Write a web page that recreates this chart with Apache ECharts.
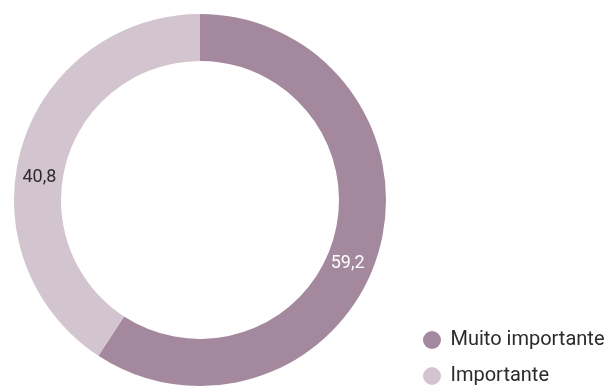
<!DOCTYPE html>
<html>
<head>
<meta charset="utf-8">
<style>
  html, body { margin: 0; padding: 0; background: #ffffff; }
  #chart { width: 611px; height: 387px; }
</style>
<script src="https://cdn.jsdelivr.net/npm/echarts@6/dist/echarts.min.js"></script>
</head>
<body>
<div id="chart"></div>
<script>
// Share of answers by level of importance (%)
const categories = ['Muito importante', 'Importante'];
const values = [59.2, 40.8];

const sliceColors = ['#a4899e', '#d3c5d0'];
const labelColors = ['#ffffff', '#2b2b2b'];
// fine-tune of each value label relative to its slice centre
const labelShift = [[-11, 16], [-2, 25]];

const fontFamily = 'Roboto, "Noto Sans", sans-serif';

const chart = echarts.init(document.getElementById('chart'), null, { renderer: 'canvas' });

chart.setOption({
  animation: false,
  backgroundColor: '#ffffff',
  legend: {
    orient: 'vertical',
    left: 423,
    top: 330,
    padding: 0,
    icon: 'circle',
    itemWidth: 19,
    itemHeight: 18,
    itemGap: 16,
    selectedMode: false,
    data: categories,
    textStyle: {
      fontFamily: fontFamily,
      fontSize: 20,
      lineHeight: 20,
      color: '#2b2b2b',
      padding: [0, 0, 0, 4]
    }
  },
  series: [{
    type: 'pie',
    center: [200, 200],
    radius: [139, 186],
    startAngle: 90,
    clockwise: true,
    silent: true,
    label: {
      show: true,
      position: 'inside',
      fontFamily: fontFamily,
      fontSize: 18,
      formatter: p => String(p.value).replace('.', ',')
    },
    labelLine: { show: false },
    labelLayout: p => ({ dx: labelShift[p.dataIndex][0], dy: labelShift[p.dataIndex][1] }),
    data: categories.map((name, i) => ({
      name: name,
      value: values[i],
      itemStyle: { color: sliceColors[i] },
      label: { color: labelColors[i] }
    }))
  }]
});
</script>
</body>
</html>
